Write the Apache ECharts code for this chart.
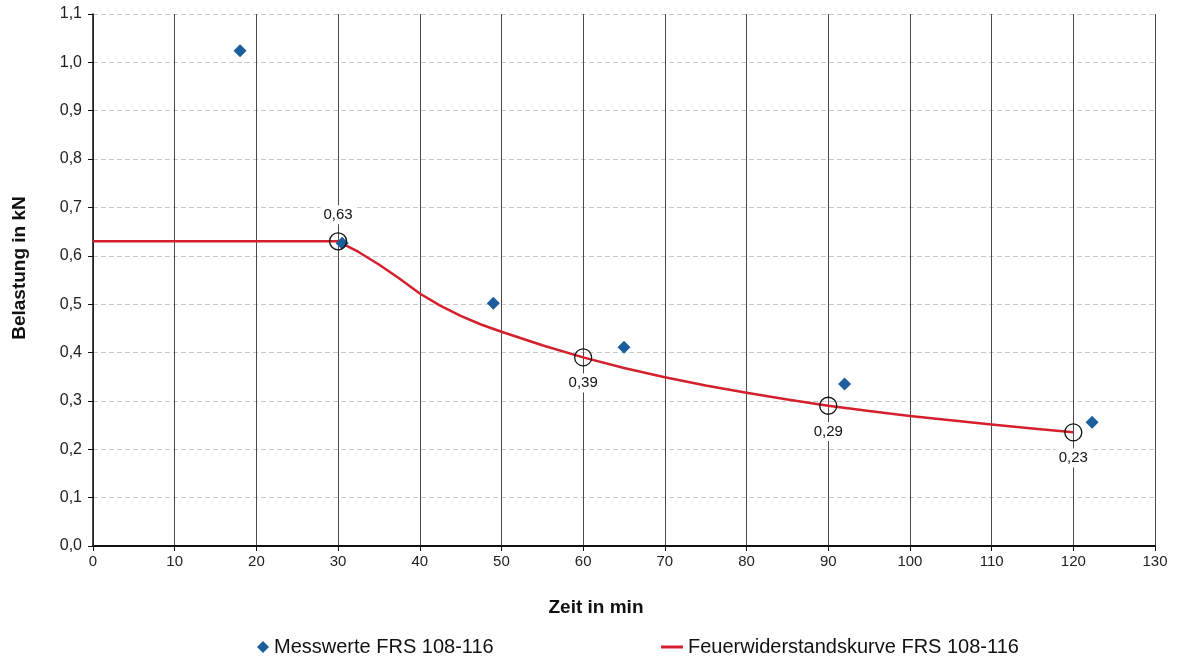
<!DOCTYPE html>
<html><head><meta charset="utf-8">
<script src="https://cdn.jsdelivr.net/npm/echarts@6/dist/echarts.min.js"></script>
<style>html,body{margin:0;padding:0;background:#fff}#c{width:1182px;height:658px}</style>
</head><body><div id="c"></div>
<script>
var messwerte = [[18, 1.024], [30.5, 0.626], [49, 0.502], [65, 0.411], [92, 0.335], [122.3, 0.256]];
var kurve = [[0, 0.63], [30, 0.63], [32.5, 0.608], [35, 0.582], [37.5, 0.553], [40, 0.522], [42.5, 0.497], [45, 0.476], [47.5, 0.458], [50, 0.443], [55, 0.415], [60, 0.39], [65, 0.368], [70, 0.349], [75, 0.332], [80, 0.317], [85, 0.303], [90, 0.29], [95, 0.279], [100, 0.269], [105, 0.26], [110, 0.251], [115, 0.243], [120, 0.235]];
var markPts = [[30, 0.63], [60, 0.39], [90, 0.29], [120, 0.235]];
var markLabels = ['0,63', '0,39', '0,29', '0,23'];
var markLabelPos = ['top', 'bottom', 'bottom', 'bottom'];

var chart = echarts.init(document.getElementById('c'));
var font = 'Liberation Sans, Arial, sans-serif';
chart.setOption({
  animation: false,
  textStyle: {fontFamily: font},
  grid: {left: 93, right: 27, top: 14, bottom: 112, outerBoundsMode: 'none', containLabel: false},
  legend: [
    {data: [{name: 'Messwerte FRS 108-116', icon: 'diamond'}], left: 252, top: 632, itemWidth: 12, itemHeight: 12, itemGap: 8,
     textStyle: {fontSize: 20, color: '#111', fontFamily: font}},
    {data: [{name: 'Feuerwiderstandskurve FRS 108-116', icon: 'rect'}], left: 656, top: 632, itemWidth: 22, itemHeight: 3, itemGap: 2,
     textStyle: {fontSize: 20, color: '#111', fontFamily: font}}
  ],
  xAxis: {
    type: 'value', min: 0, max: 130, interval: 10,
    name: 'Zeit in min', nameLocation: 'middle', nameGap: 52,
    nameTextStyle: {fontSize: 19, fontWeight: 'bold', color: '#111', fontFamily: font, padding: [0, 56, 0, 0]},
    axisLine: {lineStyle: {color: '#111', width: 2}},
    axisTick: {show: true, length: 5, lineStyle: {color: '#111'}},
    axisLabel: {fontSize: 15, color: '#222', margin: 8},
    splitLine: {show: true, lineStyle: {color: '#4a4a4a', width: 1}}
  },
  yAxis: {
    type: 'value', min: 0, max: 1.1, interval: 0.1,
    name: 'Belastung in kN', nameLocation: 'middle', nameGap: 64, nameRotate: 90,
    nameTextStyle: {fontSize: 19, fontWeight: 'bold', color: '#111', fontFamily: font, padding: [0, 0, 0, 24]},
    axisLine: {show: true, lineStyle: {color: '#111', width: 1.5}},
    axisTick: {show: true, length: 5, lineStyle: {color: '#111'}},
    axisLabel: {fontSize: 16, color: '#222', margin: 11, formatter: function (v) { return v.toFixed(1).replace('.', ','); }},
    splitLine: {show: true, lineStyle: {color: '#c8c8d0', width: 1, type: [5, 3]}}
  },
  series: [
    {name: 'Feuerwiderstandskurve FRS 108-116', type: 'line', data: kurve, smooth: false,
     showSymbol: false, symbol: 'none', lineStyle: {color: '#d4202c', width: 2.5, join: 'round'}, itemStyle: {color: '#d4202c'}, z: 3},
    {name: 'Messwerte FRS 108-116', type: 'scatter', data: messwerte, symbol: 'diamond', symbolSize: 13,
     itemStyle: {color: '#1a5e9c', opacity: 1}, z: 4},
    {name: 'marks', type: 'scatter', symbol: 'circle', symbolSize: 17, z: 5,
     itemStyle: {color: 'rgba(0,0,0,0)', borderColor: '#111', borderWidth: 1.3, opacity: 1},
     data: markPts.map(function (p, i) {
       return {value: p, label: {show: true, position: markLabelPos[i], formatter: markLabels[i], distance: markLabelPos[i] === 'top' ? 8 : 7,
         fontSize: 15, color: '#111', backgroundColor: '#fff', padding: [2, 3]}};
     })}
  ]
});
</script></body></html>
